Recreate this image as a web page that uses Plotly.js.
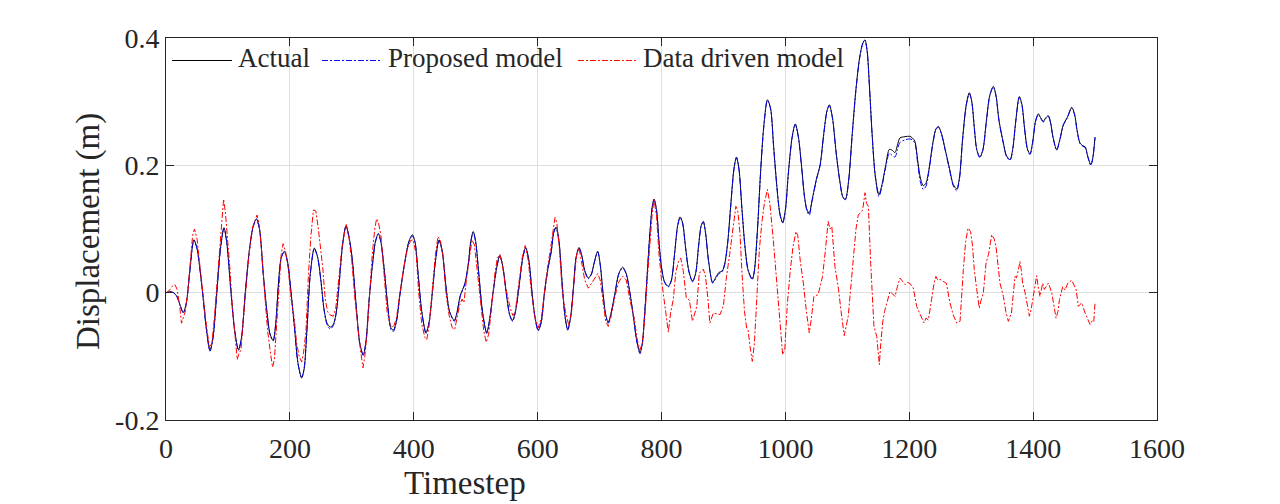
<!DOCTYPE html>
<html>
<head>
<meta charset="utf-8">
<script src="https://cdn.plot.ly/plotly-3.0.1.min.js"></script>
<style>html,body{margin:0;padding:0;background:#fff;}#chart{width:1280px;height:504px;}</style>
</head>
<body>
<div id="chart"></div>
<script>
// Timesteps for the actual / proposed curves
const timestep = [0,10,17,23,28,33,38,45,50,58,65,71,76,82,88,93.6,98,105,111,117,122,128,135,141,146,151,157,163,168,173,177,182,186,191,196,202,208,213,219,223,228,233,239.5,245,250,255,260,265,270,275,280,285,290.6,296,301,307,313,318.6,323,328,334,338,342.8,347,352,358,363,367,372,378,385,392,397.7,402,407,413,419.8,425,430,435,440.8,446,452,458,465.5,470,475,482.7,488,492,496,500,505,511,517.8,522,528,534,539,544,550,555,559.7,565,570,576,580.7,586,591,596,601,606,611,617,622,626,629.7,634,640,644,648.5,653,658,662,666.8,671,676,681.9,687,692,697,701,706,710,714,719,725,731,737.3,743,749,755,760,765.3,769,773,777,781,785,788,792,796,800,805,811,816,821,826,830,834,839,844,850,855,860,864,867.5,871,876,882.6,888,893,898,902,907,912,917,921,925,930,935,940,946.6,950,955,960,965,971,976,981,986,991,995.6,1000,1005,1011,1016,1021,1026,1031,1035,1038.6,1043,1050.5,1056,1062,1067,1071,1076,1082,1088,1093,1097,1102,1108,1114,1120,1125,1128.5,1132,1136,1140,1145,1151,1156,1162,1167.8,1172,1177,1181,1185,1193,1201,1205,1209,1214,1218,1222.7,1227,1232,1238,1243,1247,1252,1258,1265,1271,1276.6,1281,1286,1292,1297,1301,1305,1309,1314,1319,1324,1330,1335.7,1340,1345,1352,1357,1362.7,1367,1372,1377.7,1382,1386,1391,1395,1399,1404,1408.4,1412,1416.5,1420,1424.5,1428,1432,1438,1443,1448.8,1455,1462.3,1467,1471,1475.7,1480,1484,1488,1493,1496,1500];

const actual = [0,0.001,-0.005,-0.02,-0.031,-0.015,0.03,0.083,0.07,0.01,-0.055,-0.091,-0.07,0.0,0.07,0.102,0.08,0.0,-0.06,-0.0895,-0.07,0.0,0.07,0.105,0.116,0.1,0.03,-0.03,-0.065,-0.075,-0.05,0.02,0.055,0.065,0.05,0.0,-0.06,-0.11,-0.134,-0.12,-0.05,0.03,0.07,0.055,0.02,-0.025,-0.048,-0.054,-0.05,-0.03,0.02,0.075,0.105,0.085,0.05,-0.02,-0.08,-0.0975,-0.075,-0.01,0.05,0.08,0.093,0.08,0.04,-0.02,-0.055,-0.059,-0.045,0.0,0.045,0.08,0.091,0.08,0.03,-0.03,-0.063,-0.045,0.0,0.05,0.083,0.065,0.01,-0.03,-0.0435,-0.03,-0.005,0.015,0.045,0.08,0.096,0.08,0.03,-0.03,-0.063,-0.045,0.0,0.04,0.0586,0.04,-0.005,-0.035,-0.0435,-0.025,0.01,0.055,0.071,0.05,0.0,-0.04,-0.059,-0.045,0.0,0.04,0.065,0.095,0.103,0.085,0.01,-0.035,-0.058,-0.04,0.01,0.055,0.071,0.06,0.035,0.023,0.03,0.05,0.065,0.045,-0.005,-0.035,-0.0466,-0.03,0.0,0.03,0.04,0.03,0.0,-0.04,-0.075,-0.094,-0.08,-0.03,0.03,0.09,0.135,0.147,0.13,0.08,0.04,0.017,0.01,0.02,0.06,0.105,0.119,0.11,0.07,0.035,0.018,0.03,0.075,0.105,0.112,0.095,0.05,0.016,0.025,0.032,0.034,0.045,0.08,0.14,0.195,0.213,0.195,0.13,0.07,0.035,0.0215,0.035,0.1,0.19,0.26,0.303,0.29,0.23,0.17,0.125,0.11,0.13,0.19,0.245,0.265,0.245,0.2,0.15,0.13,0.125,0.145,0.18,0.2,0.25,0.285,0.295,0.275,0.22,0.175,0.15,0.147,0.175,0.25,0.32,0.37,0.392,0.397,0.38,0.32,0.25,0.185,0.154,0.17,0.2,0.225,0.224,0.22,0.232,0.243,0.245,0.2455,0.243,0.238,0.205,0.18,0.168,0.172,0.195,0.235,0.257,0.261,0.25,0.225,0.195,0.17,0.163,0.18,0.24,0.295,0.314,0.3,0.26,0.225,0.213,0.225,0.265,0.31,0.324,0.31,0.27,0.235,0.215,0.209,0.225,0.27,0.308,0.295,0.26,0.225,0.218,0.235,0.27,0.281,0.275,0.269,0.274,0.278,0.268,0.245,0.2246,0.24,0.264,0.275,0.291,0.28,0.255,0.235,0.231,0.229,0.215,0.201,0.21,0.2445];

const proposed = [0,0.001,-0.005,-0.021,-0.032,-0.016,0.029,0.082,0.069,0.009,-0.056,-0.092,-0.071,-0.001,0.069,0.101,0.079,-0.001,-0.061,-0.091,-0.071,-0.001,0.069,0.104,0.115,0.099,0.029,-0.031,-0.066,-0.076,-0.051,0.019,0.054,0.064,0.049,-0.001,-0.061,-0.111,-0.133,-0.119,-0.051,0.029,0.069,0.054,0.019,-0.026,-0.05,-0.057,-0.052,-0.031,0.019,0.074,0.104,0.084,0.049,-0.021,-0.081,-0.099,-0.076,-0.011,0.049,0.079,0.092,0.079,0.039,-0.021,-0.057,-0.061,-0.046,-0.001,0.044,0.079,0.089,0.079,0.029,-0.031,-0.064,-0.046,-0.001,0.049,0.081,0.064,0.009,-0.031,-0.045,-0.031,-0.006,0.014,0.044,0.079,0.095,0.079,0.029,-0.031,-0.064,-0.046,-0.001,0.039,0.0576,0.039,-0.006,-0.036,-0.045,-0.026,0.009,0.054,0.07,0.049,-0.001,-0.041,-0.06,-0.046,-0.001,0.039,0.064,0.094,0.102,0.084,0.009,-0.036,-0.059,-0.041,0.009,0.054,0.07,0.059,0.034,0.022,0.029,0.049,0.064,0.044,-0.006,-0.036,-0.048,-0.031,-0.001,0.029,0.039,0.029,-0.001,-0.041,-0.076,-0.096,-0.081,-0.031,0.029,0.089,0.134,0.146,0.129,0.079,0.039,0.016,0.009,0.019,0.059,0.104,0.118,0.109,0.069,0.034,0.017,0.029,0.074,0.104,0.111,0.094,0.049,0.015,0.023,0.03,0.033,0.044,0.079,0.139,0.194,0.212,0.194,0.129,0.069,0.034,0.0205,0.034,0.099,0.189,0.259,0.302,0.289,0.229,0.169,0.124,0.109,0.129,0.189,0.244,0.264,0.244,0.199,0.149,0.128,0.122,0.143,0.179,0.199,0.249,0.284,0.294,0.274,0.219,0.174,0.149,0.146,0.174,0.249,0.319,0.369,0.391,0.396,0.379,0.319,0.249,0.184,0.151,0.167,0.197,0.219,0.216,0.213,0.225,0.236,0.24,0.2415,0.24,0.235,0.2,0.174,0.162,0.167,0.192,0.233,0.256,0.26,0.249,0.224,0.193,0.168,0.16,0.178,0.239,0.294,0.313,0.299,0.259,0.224,0.212,0.224,0.264,0.309,0.323,0.309,0.269,0.234,0.214,0.208,0.224,0.269,0.307,0.294,0.259,0.224,0.217,0.234,0.269,0.28,0.274,0.268,0.273,0.277,0.267,0.244,0.2236,0.239,0.263,0.274,0.29,0.279,0.254,0.234,0.23,0.228,0.214,0.2,0.209,0.2435];

// Data driven model
const dataDrivenT = [0,5,10,14.5,18,22,25,28,31,35,39,43,46,50,55,60,65,70,74,78,83,87,91,93,96,99,103,107,111,115,118,121,125,129,134,139,144,147,150,155,160,164,168,172,175,178,182,186,189,193,197,202,207,211,215,219,222,226,230,234,238,242,246,249,253,257,261,265,270,274,279,284,289,291,295,300,305,310,314,318,321,325,329,333,337,340,343,347,352,357,362,367,372,378,384,390,395,399,404,408,413,418,421,425,430,435,439,443,447,452,457,462,466,470,474,478,481,485,490,494,498,503,508,513,517,521,526,531,535,539,543,548,552,556,560,564,569,575,580,585,590,596,601,606,611,616,621,625,628,631,635,640,645,650,655,659,663,667,671,676,682,687,692,697,701,706,710,714,718,724,730,737,743,750,756,760,765,769,773,777,781,785,788,792,796,800,805.6,808,811,815,819,823,827,831,835,840,845,850,854,857,861,864,867.5,871,875,878,883.7,889,894.5,900,905,910,915,918,920,923,926.7,930,934,937.5,940,943,946.6,950,954,958,962,966,971,975,980.5,985,988.6,992,995.6,999,1003,1007.5,1012,1017,1020,1024,1029,1034,1038.6,1042,1046,1053,1060,1065,1069,1072,1075,1080,1085.6,1090,1095,1101.5,1106,1110.8,1114,1117.8,1121,1124.8,1128.6,1131,1134,1137.7,1140,1143,1147.5,1151.7,1154,1157,1160,1164,1169,1173,1177,1181,1185,1189,1193.5,1197,1201,1206.5,1212,1218,1223.8,1227,1230.8,1236,1240,1243,1246,1249.5,1255,1260,1265.7,1271,1276.6,1282,1287.3,1291,1295,1299,1302,1305,1309,1313,1316,1319.6,1324,1328,1333,1337,1340,1346.5,1352,1356,1360,1365,1370.7,1373,1376,1378.8,1381,1383,1387,1391,1394,1397,1400,1405.7,1408,1411,1415.5,1418,1421,1424.7,1430,1434,1437,1440,1442.5,1447.8,1451.6,1456,1462.3,1466,1469.5,1473,1478.5,1484,1488,1491.9,1496,1498,1500];

const dataDriven = [0,0.003,0.01,0.0126,0.005,-0.02,-0.048,-0.04,-0.03,0.0,0.05,0.09,0.1,0.085,0.04,-0.01,-0.05,-0.085,-0.08,-0.04,0.02,0.08,0.12,0.147,0.125,0.09,0.04,-0.02,-0.07,-0.105,-0.095,-0.09,-0.04,0.01,0.06,0.1,0.115,0.122,0.11,0.06,-0.01,-0.06,-0.09,-0.117,-0.105,-0.06,0.01,0.06,0.077,0.065,0.04,-0.01,-0.04,-0.08,-0.1,-0.109,-0.095,-0.06,0.03,0.09,0.13,0.128,0.1,0.075,0.04,-0.01,-0.03,-0.035,-0.037,-0.025,0.02,0.07,0.1,0.107,0.09,0.05,-0.01,-0.06,-0.09,-0.118,-0.1,-0.06,0.0,0.06,0.1,0.116,0.11,0.09,0.03,-0.03,-0.05,-0.055,-0.04,0.0,0.04,0.07,0.082,0.083,0.06,0.0,-0.05,-0.07,-0.074,-0.05,0.01,0.06,0.088,0.082,0.06,0.0,-0.035,-0.055,-0.058,-0.04,-0.02,-0.01,-0.016,0.02,0.06,0.083,0.075,0.03,-0.02,-0.06,-0.078,-0.065,-0.02,0.03,0.055,0.06,0.045,0.01,-0.008,-0.025,-0.036,-0.03,0.01,0.055,0.074,0.05,0.0,-0.04,-0.055,-0.04,0.0,0.04,0.07,0.1,0.118,0.11,0.07,0.0,-0.03,-0.05,-0.03,0.02,0.06,0.07,0.05,0.02,0.007,0.015,0.022,0.03,0.02,-0.02,-0.045,-0.053,-0.04,-0.01,0.015,0.026,0.02,-0.016,-0.04,-0.07,-0.09,-0.08,-0.04,0.02,0.08,0.125,0.146,0.12,0.06,0.02,-0.0215,-0.04,-0.062,-0.03,-0.011,0.031,0.048,0.0545,0.035,-0.008,-0.012,-0.045,-0.03,-0.0215,0.031,0.033,0.037,0.026,-0.01,-0.0476,-0.032,-0.033,-0.0345,-0.02,0.0256,0.06,0.1,0.125,0.1356,0.13,0.094,0.03,-0.03,-0.0555,-0.06,-0.085,-0.108,-0.08,0.0,0.0675,0.11,0.14,0.162,0.14,0.083,0.03,-0.011,-0.06,-0.0975,-0.09,-0.02,0.031,0.07,0.096,0.09,0.05,0.015,-0.03,-0.063,-0.04,-0.006,-0.003,0.0256,0.07,0.112,0.1,0.104,0.041,0.007,-0.03,-0.0675,-0.037,0.01,0.0675,0.1,0.1225,0.125,0.13,0.157,0.14,0.1356,0.047,0.0,-0.053,-0.0686,-0.113,-0.08,-0.0476,-0.03,-0.016,0.002,-0.002,-0.006,0.01,0.023,0.018,0.0126,0.016,0.0146,0.0073,-0.0215,-0.035,-0.0476,-0.04,-0.043,-0.011,0.015,0.0256,0.02,0.021,0.018,0.0146,-0.016,-0.035,-0.0476,-0.045,0.036,0.08,0.1016,0.096,0.075,0.036,0.0047,-0.024,-0.012,-0.0005,0.0466,0.06,0.091,0.085,0.073,0.015,-0.006,-0.03,-0.045,-0.032,0.0256,0.023,0.035,0.049,0.035,0.015,0.0,-0.02,-0.037,-0.025,-0.006,0.0267,0.01,-0.006,0.015,0.005,0.0094,0.015,0.0,-0.02,-0.04,-0.03,-0.011,0.0094,0.004,0.015,0.0194,0.012,0.004,-0.0215,-0.016,-0.032,-0.04,-0.05,-0.043,-0.045,-0.015];

const xTicks = [0,200,400,600,800,1000,1200,1400,1600];
const yTicks = [-0.2,0,0.2,0.4];
const yTickText = ['-0.2','0','0.2','0.4'];
const seriesNames = ['Actual','Proposed model','Data driven model'];
const seriesColors = ['#000000','#0000ff','#ff0000'];
const seriesDash = ['solid','6px,2px,2px,2px','6px,2px,2px,2px'];

const FONT = 'Liberation Serif, Times New Roman, serif';
const INK = '#262626';

const traces = [
  {x: timestep, y: actual, name: seriesNames[0], type: 'scatter', mode: 'lines',
   line: {color: seriesColors[0], width: 1, shape: 'spline', smoothing: 0.8}},
  {x: timestep, y: proposed, name: seriesNames[1], type: 'scatter', mode: 'lines',
   line: {color: seriesColors[1], width: 1, dash: seriesDash[1], shape: 'spline', smoothing: 0.8}},
  {x: dataDrivenT, y: dataDriven, name: seriesNames[2], type: 'scatter', mode: 'lines',
   line: {color: seriesColors[2], width: 1, dash: seriesDash[2]}}
];

// MATLAB-style legend: long line samples drawn in paper coordinates, labels as text
const legendLineX = [[0.00605, 0.0666], [0.1574, 0.2180], [0.4157, 0.4763]];
const legendTextX = [0.0706, 0.2220, 0.4793];
const legendY = 0.9411;
const legendShapes = seriesNames.map((n, i) => ({
  type: 'line', xref: 'paper', yref: 'paper',
  x0: legendLineX[i][0], x1: legendLineX[i][1], y0: legendY, y1: legendY,
  line: {color: seriesColors[i], width: 1, dash: seriesDash[i]}
}));
const legendLabels = seriesNames.map((n, i) => ({
  text: n, xref: 'paper', yref: 'paper', x: legendTextX[i], y: 0.947,
  xanchor: 'left', yanchor: 'middle', showarrow: false,
  font: {family: FONT, size: 27, color: INK}
}));

const axisCommon = {
  showline: true, linecolor: INK, linewidth: 1, mirror: 'ticks',
  ticks: 'inside', ticklen: 8, tickcolor: INK, tickwidth: 1,
  showgrid: true, gridcolor: '#dfdfdf', gridwidth: 1, zeroline: false,
  tickfont: {family: FONT, size: 28, color: INK}
};

const layout = {
  width: 1280, height: 504,
  margin: {l: 166, r: 123, t: 38, b: 84},
  paper_bgcolor: '#ffffff', plot_bgcolor: '#ffffff',
  showlegend: false,
  xaxis: Object.assign({}, axisCommon, {range: [0, 1600], tickvals: xTicks, ticktext: xTicks.map(String), ticklabelstandoff: 3}),
  yaxis: Object.assign({}, axisCommon, {range: [-0.2, 0.4], tickvals: yTicks, ticktext: yTickText}),
  shapes: legendShapes,
  annotations: [
    {text: 'Timestep', xref: 'paper', yref: 'paper', x: 0.3017, y: -0.165,
     xanchor: 'center', yanchor: 'middle', showarrow: false,
     font: {family: FONT, size: 33, color: INK}},
    {text: 'Displacement (m)', xref: 'paper', yref: 'paper', x: -0.0787, y: 0.492,
     xanchor: 'center', yanchor: 'middle', showarrow: false, textangle: -90,
     font: {family: FONT, size: 33, color: INK}}
  ].concat(legendLabels)
};

Plotly.newPlot('chart', traces, layout, {displayModeBar: false, staticPlot: true});
</script>
</body>
</html>
